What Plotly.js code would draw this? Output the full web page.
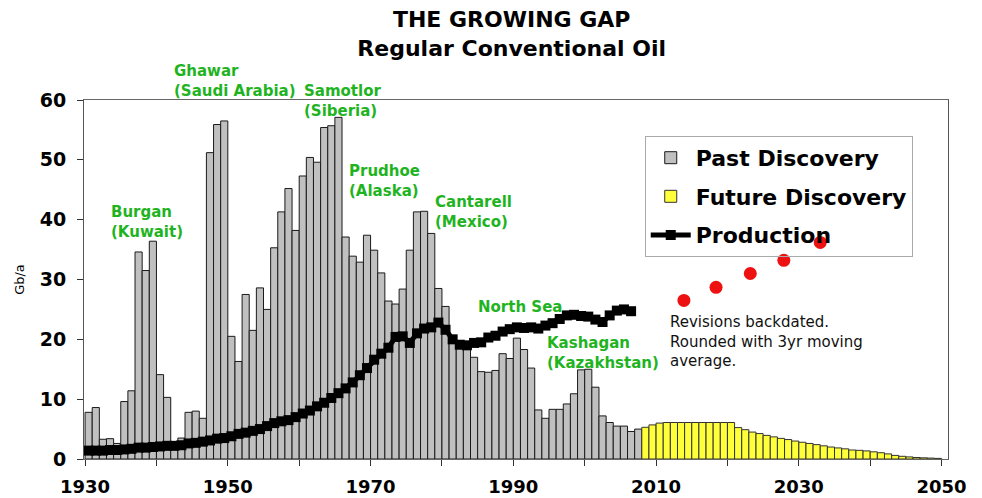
<!DOCTYPE html>
<html>
<head>
<meta charset="utf-8">
<script src="https://cdn.plot.ly/plotly-3.0.1.min.js"></script>
<style>html,body{margin:0;padding:0;background:#fff;}#chart{width:982px;height:498px;}</style>
</head>
<body>
<div id="chart"></div>
<script>
// ---- data ----
const pastYears = [];
for (let y = 1930; y <= 2007; y++) pastYears.push(y);
const pastDiscovery = [
  7.8, 8.6, 3.3, 3.4, 2.6, 9.6, 11.4, 34.6, 31.5, 36.4,
  14.1, 10.3, 2.2, 3.5, 7.8, 8.0, 6.8, 51.2, 55.9, 56.5,
  20.5, 16.3, 27.5, 21.5, 28.6, 25.0, 35.3, 41.3, 45.2, 38.2,
  47.3, 50.4, 49.6, 55.4, 55.7, 57.1, 37.1, 33.9, 32.9, 37.4,
  34.9, 31.1, 26.4, 25.9, 28.4, 34.9, 41.3, 41.4, 37.7, 28.5,
  25.5, 20.5, 18.8, 18.6, 17.0, 14.6, 14.5, 14.8, 17.6, 16.8,
  20.2, 18.3, 15.2, 8.2, 6.8, 8.3, 8.3, 9.2, 10.9, 14.9,
  15.0, 12.0, 7.2, 6.1, 5.5, 5.5, 4.6, 5.0
];
const futureYears = [];
for (let y = 2008; y <= 2049; y++) futureYears.push(y);
const futureDiscovery = [
  5.3, 5.7, 6.0, 6.1, 6.1, 6.1, 6.1, 6.1, 6.1, 6.1,
  6.1, 6.1, 6.1, 5.25, 4.9, 4.5, 4.25, 3.95, 3.7, 3.45,
  3.25, 3.0, 2.8, 2.6, 2.4, 2.2, 2.0, 1.85, 1.7, 1.5,
  1.45, 1.35, 1.2, 1.05, 0.85, 0.6, 0.45, 0.35, 0.25, 0.2,
  0.15, 0.1
];
const prodYears = [];
for (let y = 1930; y <= 2006; y++) prodYears.push(y);
const production = [
  1.4, 1.4, 1.4, 1.5, 1.5, 1.6, 1.7, 1.9, 1.9, 2.0,
  2.1, 2.2, 2.2, 2.3, 2.6, 2.7, 2.9, 3.1, 3.4, 3.5,
  3.8, 4.2, 4.4, 4.7, 5.0, 5.5, 6.0, 6.3, 6.5, 7.0,
  7.6, 8.1, 8.8, 9.4, 10.2, 11.0, 11.8, 12.8, 14.0, 15.2,
  16.6, 17.6, 18.6, 20.4, 20.5, 19.4, 21.0, 21.8, 22.0, 22.8,
  21.6, 20.0, 19.1, 19.0, 19.4, 19.5, 20.3, 20.6, 21.3, 21.7,
  22.0, 21.9, 22.0, 21.8, 22.3, 22.7, 23.4, 24.0, 24.1, 23.9,
  23.8, 23.3, 22.9, 24.0, 24.8, 25.0, 24.7
];
const revisionYears = [2013.9, 2018.4, 2023.2, 2027.9, 2033.0];
const revisionValues = [26.5, 28.7, 31.0, 33.2, 36.2];

const xTickVals = [1930, 1950, 1970, 1990, 2010, 2030, 2050];
const yTickVals = [0, 10, 20, 30, 40, 50, 60];

const fieldLabels = [
  {text: 'Ghawar<br>(Saudi Arabia)', x: 1942.2, y: 63.2},
  {text: 'Samotlor<br>(Siberia)', x: 1960.4, y: 59.75},
  {text: 'Burgan<br>(Kuwait)', x: 1933.35, y: 39.6},
  {text: 'Prudhoe<br>(Alaska)', x: 1966.7, y: 46.5},
  {text: 'Cantarell<br>(Mexico)', x: 1978.7, y: 41.2},
  {text: 'North Sea', x: 1984.8, y: 25.4},
  {text: 'Kashagan<br>(Kazakhstan)', x: 1994.4, y: 17.7}
];
const noteText = 'Revisions backdated.<br>Rounded with 3yr moving<br>average.';

// ---- chart ----
const FONT = 'DejaVu Sans, Arial, sans-serif';
const green = '#1fb41f';
const YMAX = 60;
const mid = a => a.map(v => v + 0.5);

const traces = [
  {
    type: 'bar', name: 'Past Discovery', x: mid(pastYears), y: pastDiscovery, width: 1,
    marker: {color: '#c0c0c0', line: {color: '#1a1a1a', width: 1}},
    legendgroup: 'a'
  },
  {
    type: 'bar', name: 'Future Discovery', x: mid(futureYears), y: futureDiscovery, width: 1,
    marker: {color: '#ffff3a', line: {color: '#333', width: 1}},
    legendgroup: 'b'
  },
  {
    type: 'scatter', mode: 'lines+markers', name: 'Production', x: mid(prodYears), y: production,
    line: {color: '#000', width: 5},
    marker: {symbol: 'square', size: 10, color: '#000'},
    legendgroup: 'c'
  },
  {
    type: 'scatter', mode: 'markers', name: 'Revisions', x: revisionYears, y: revisionValues,
    marker: {symbol: 'circle', size: 13, color: '#ee1111'}, showlegend: false
  }
];

const annotations = fieldLabels.map(f => ({
  text: f.text, x: f.x, y: f.y / YMAX, xref: 'x', yref: 'paper', xanchor: 'left', yanchor: 'middle',
  align: 'left', showarrow: false, font: {family: FONT, size: 15, color: green, weight: 'bold'}
}));
annotations.push({
  text: noteText, x: 2011.67, y: 19.6 / YMAX, xref: 'x', yref: 'paper', xanchor: 'left', yanchor: 'middle',
  align: 'left', showarrow: false, font: {family: FONT, size: 15, color: '#111'}
});

const layout = {
  width: 982, height: 498,
  margin: {l: 84, r: 34, t: 100, b: 39},
  paper_bgcolor: '#fff', plot_bgcolor: '#fff',
  font: {family: FONT, color: '#000'},
  title: {
    text: 'THE GROWING GAP<br>Regular Conventional Oil',
    font: {family: FONT, size: 22, weight: 'bold', color: '#000'},
    x: 0.495, xref: 'paper', xanchor: 'center', yref: 'container', y: 1 - 27 / 498, yanchor: 'middle'
  },
  barmode: 'overlay', bargap: 0,
  showlegend: true,
  legend: {
    x: 0.649, y: 0.9, xanchor: 'left', yanchor: 'top',
    bgcolor: 'rgba(0,0,0,0)', bordercolor: '#aaa', borderwidth: 1,
    font: {family: FONT, size: 22, weight: 'bold', color: '#000'},
    traceorder: 'grouped', tracegroupgap: 7, itemwidth: 40
  },
  xaxis: {
    range: [1929.85, 2050.9], tickvals: xTickVals, ticktext: xTickVals.map(String),
    ticks: 'outside', ticklen: 6, tickcolor: '#333',
    minor: {dtick: 10, tick0: 1930, ticks: 'outside', ticklen: 6, tickcolor: '#333'},
    showline: true, linecolor: '#666', linewidth: 1, mirror: true,
    showgrid: false, zeroline: false, ticklabelstandoff: 5,
    tickfont: {family: FONT, size: 18, weight: 'bold', color: '#000'}
  },
  yaxis: {
    range: [0, YMAX], tickvals: yTickVals,
    ticks: 'outside', ticklen: 6, tickcolor: '#333',
    showline: true, linecolor: '#555', linewidth: 1, mirror: true,
    showgrid: false, zeroline: false, ticklabelstandoff: 7,
    tickfont: {family: FONT, size: 19, weight: 'bold', color: '#000'},
    title: {text: 'Gb/a', font: {family: FONT, size: 13, color: '#000'}, standoff: 12}
  },
  annotations: annotations
};

Plotly.newPlot('chart', traces, layout, {displayModeBar: false, staticPlot: true});
</script>
</body>
</html>
